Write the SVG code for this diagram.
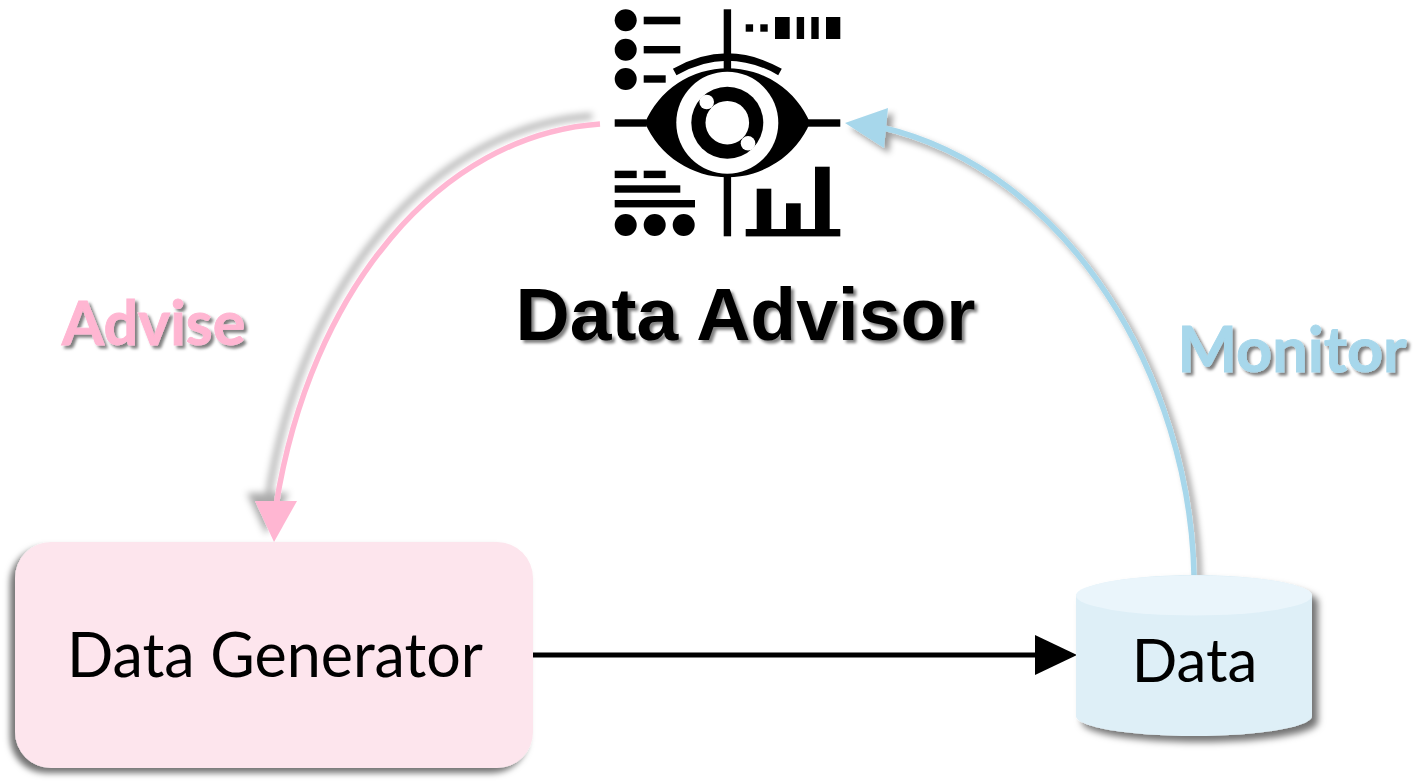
<svg xmlns="http://www.w3.org/2000/svg" width="1414" height="784" viewBox="0 0 1414 784">
<style>
.lato{font-family:"Lato","Carlito","Open Sans",sans-serif}
.ic{fill:#000}
.w{fill:#fff}
.bold{font-weight:700;stroke-width:.9}
text{text-anchor:middle}
</style>
<defs>
<filter id="shBlue" x="-20%" y="-20%" width="150%" height="150%"><feDropShadow dx="5" dy="5" stdDeviation="3" flood-color="#000" flood-opacity=".4"/></filter>
<filter id="shPink" x="-20%" y="-20%" width="140%" height="140%"><feDropShadow dx="-8" dy="-8" stdDeviation="3.5" flood-color="#000" flood-opacity=".33"/></filter>
<filter id="shBox" x="-20%" y="-20%" width="140%" height="140%"><feDropShadow dx="-5" dy="5" stdDeviation="3" flood-color="#000" flood-opacity=".55"/></filter>
<filter id="shCyl" x="-20%" y="-20%" width="150%" height="150%"><feDropShadow dx="6" dy="6" stdDeviation="3.5" flood-color="#000" flood-opacity=".55"/></filter>
<filter id="shT" x="-10%" y="-20%" width="120%" height="150%"><feDropShadow dx="3" dy="3" stdDeviation="1.8" flood-color="#000" flood-opacity=".5"/></filter>
</defs>
<g id="connectors">
<g filter="url(#shPink)"><path d="M600,124 C440,135 310,290 276,506" fill="none" stroke="#FFB6D2" stroke-width="5.5"/><polygon points="255,501 297,501 274,542" fill="#FFB6D2"/></g>
<g filter="url(#shBlue)"><path d="M1194,575 C1190,380 1070,170 880,127" fill="none" stroke="#A7D7EB" stroke-width="5.5"/><polygon points="845,123 888,108 884,148" fill="#A7D7EB"/></g>
<path d="M533,655 H1040" fill="none" stroke="#000" stroke-width="5"/><polygon points="1035,635 1077,655 1035,675" fill="#000"/>
</g>
<g id="data-advisor">
<g class="ic">
<circle cx="625.7" cy="20.3" r="11"/><circle cx="625.7" cy="49.7" r="11"/><circle cx="625.7" cy="79" r="11"/>
<rect x="643.7" y="16.7" width="36.6" height="7.6"/><rect x="643.7" y="46" width="36.6" height="7.4"/><rect x="643.7" y="75.3" width="22" height="7.4"/>
<rect x="723.7" y="9.3" width="7.4" height="62"/><rect x="723.7" y="176" width="7.4" height="60.3"/>
<rect x="745.7" y="24.3" width="7.4" height="7.4"/><rect x="760.3" y="24.3" width="7.4" height="7.4"/>
<rect x="775" y="17" width="14.7" height="22"/><rect x="796.7" y="17" width="7.4" height="22"/><rect x="811.3" y="17" width="7.4" height="22"/><rect x="826" y="17" width="14.3" height="22"/>
<path d="M674.7,72 Q727.3,42 780,72" fill="none" stroke="#000" stroke-width="7.2"/>
<path d="M645,122.7 A89.7,89.7 0 0 1 810,122.7 A89.7,89.7 0 0 1 645,122.7 Z"/>
<rect x="614.7" y="119.3" width="32" height="7.4"/><rect x="808" y="119.3" width="32.3" height="7.4"/>
<rect x="614.7" y="170.7" width="22" height="7.4"/><rect x="643.7" y="170.7" width="22" height="7.4"/>
<rect x="614.7" y="185.3" width="65.6" height="7.4"/><rect x="614.7" y="200" width="80.3" height="7.4"/>
<circle cx="625.7" cy="225" r="11"/><circle cx="654.7" cy="225" r="11"/><circle cx="683.7" cy="225" r="11"/>
<rect x="745.7" y="229" width="94.6" height="7.4"/><rect x="756.7" y="188.7" width="14.6" height="45"/><rect x="786" y="203.3" width="14.7" height="30"/><rect x="815" y="166.7" width="14.7" height="67"/>
</g>
<circle class="w" cx="727.3" cy="122.7" r="51"/>
<circle class="ic" cx="727.3" cy="122.7" r="36"/>
<circle class="w" cx="727.3" cy="122.7" r="21.8"/>
<circle class="w" cx="706.7" cy="102" r="7.3"/><circle class="w" cx="748" cy="143.3" r="7.3"/>
<text x="745.5" y="340" font-family="Liberation Sans,Arial,sans-serif" font-weight="700" font-size="75" fill="#000" filter="url(#shT)">Data Advisor</text>
</g>
<g id="advise-label"><text class="lato bold" x="153.500" y="345" font-size="61" fill="#FFB6D2" stroke="#FFB6D2" filter="url(#shT)">Advise</text></g>
<g id="monitor-label"><text class="lato bold" x="1292" y="372" font-size="63" fill="#A7D7EB" stroke="#A7D7EB" filter="url(#shT)">Monitor</text></g>
<g id="data-generator">
<rect x="15" y="542" width="518" height="226" rx="36" fill="#FDE5ED" filter="url(#shBox)"/>
<text class="lato" x="275" y="677" font-size="61" fill="#000">Data Generator</text>
</g>
<g id="data">
<g filter="url(#shCyl)"><path d="M1076,596 C1076,585 1129,575 1194,575 C1259,575 1312,585 1312,596 V716 C1312,727 1259,736 1194,736 C1129,736 1076,727 1076,716 Z" fill="#DEEFF7"/></g>
<ellipse cx="1194" cy="595.500" rx="118" ry="20" fill="#EAF5FB"/>
<text class="lato" x="1194.500" y="682" font-size="60" fill="#000">Data</text>
</g>
</svg>
